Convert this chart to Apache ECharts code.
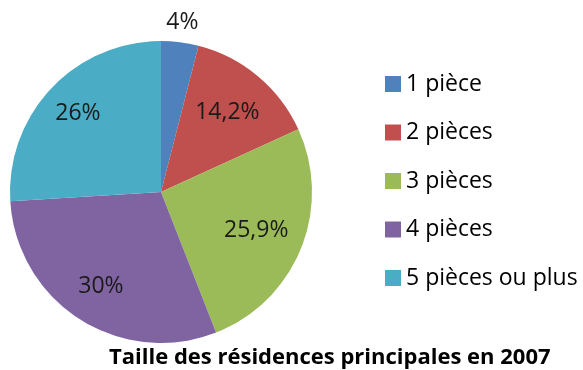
<!DOCTYPE html>
<html>
<head>
<meta charset="utf-8">
<script src="https://cdn.jsdelivr.net/npm/echarts@6/dist/echarts.min.js"></script>
<style>
  html, body { margin: 0; padding: 0; background: #fff; }
  #chart { width: 583px; height: 370px; }
</style>
</head>
<body>
<div id="chart"></div>
<script>
// Taille des résidences principales en 2007 (part en %)
const categories = ['1 pièce', '2 pièces', '3 pièces', '4 pièces', '5 pièces ou plus'];
const shares = [4, 14.2, 25.9, 30, 26];
const shareLabels = ['4%', '14,2%', '25,9%', '30%', '26%'];
const colors = ['#4F81BD', '#C0504D', '#9BBB59', '#8064A2', '#4BACC6'];

const CX = 161, CY = 192, R = 151;
// distance of each slice label from the centre, as a fraction of the radius
const labelRadius = [1.13, 0.685, 0.68, 0.74, 0.755];
const FONT = '"Open Sans", Lato, sans-serif';

const chart = echarts.init(document.getElementById('chart'), null, { renderer: 'canvas' });

chart.setOption({
  animation: false,
  color: colors,
  title: {
    text: 'Taille des résidences principales en 2007',
    left: 109,
    top: 346,
    padding: 0,
    textStyle: { fontFamily: FONT, fontSize: 22, fontWeight: 'bold', color: '#000', lineHeight: 24 }
  },
  legend: {
    orient: 'vertical',
    left: 385,
    top: 72,
    padding: 0,
    itemWidth: 16,
    itemHeight: 16,
    itemGap: 24.5,
    icon: 'rect',
    data: categories,
    textStyle: { fontFamily: FONT, fontSize: 23, color: '#000', lineHeight: 24 }
  },
  series: [{
    type: 'pie',
    center: [CX, CY],
    radius: R,
    startAngle: 90,
    clockwise: true,
    avoidLabelOverlap: false,
    itemStyle: { borderWidth: 0 },
    label: {
      show: true,
      position: 'inside',
      fontFamily: FONT,
      fontSize: 23,
      color: '#1a1a1a',
      formatter: p => shareLabels[p.dataIndex]
    },
    labelLine: { show: false },
    // move labels along their slice's mid-angle ray
    labelLayout: function (params) {
      const r = params.labelRect;
      const lx = r.x + r.width / 2, ly = r.y + r.height / 2;
      const dx = lx - CX, dy = ly - CY;
      const d = Math.sqrt(dx * dx + dy * dy) || 1;
      const target = R * labelRadius[params.dataIndex];
      return {
        x: CX + dx / d * target,
        y: CY + dy / d * target,
        align: 'center',
        verticalAlign: 'middle'
      };
    },
    data: categories.map((c, i) => ({ name: c, value: shares[i] }))
  }]
});
</script>
</body>
</html>
